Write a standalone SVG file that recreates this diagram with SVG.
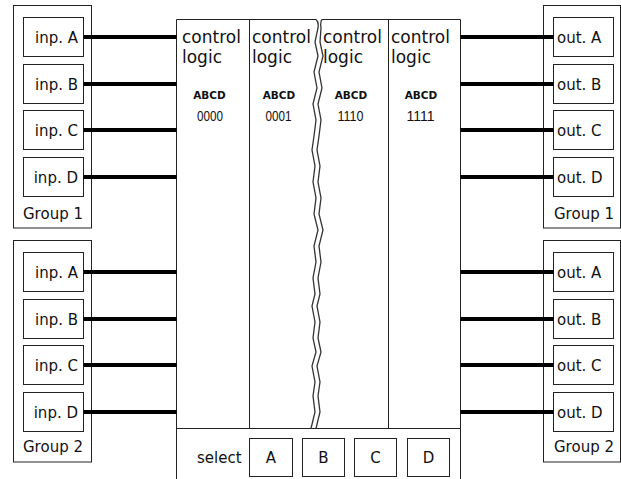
<svg xmlns="http://www.w3.org/2000/svg" width="621" height="479" viewBox="0 0 621 479">
<style>
.box{fill:#fff;stroke:#222;stroke-width:1}
.t{font-family:"DejaVu Sans",Verdana,sans-serif;font-size:15px;fill:#111}
.big{font-family:"DejaVu Sans",Verdana,sans-serif;font-size:17px;fill:#111}
.b{font-family:"DejaVu Sans",Verdana,sans-serif;font-size:10.5px;font-weight:bold;fill:#111;text-anchor:middle}
.d{font-family:"Liberation Sans",Arial,sans-serif;font-size:15px;fill:#111;text-anchor:middle}
.e{text-anchor:end}
.m{text-anchor:middle}
.wire{stroke:#000;stroke-width:4;fill:none}
.ln{stroke:#222;stroke-width:1;fill:none}
.wig{stroke:#333;stroke-width:1.3;fill:none}
</style>
<rect width="621" height="479" fill="#fff"/>

<g id="in-group1">
<rect class="box" x="13.5" y="5.5" width="78" height="222.5"/>
<rect class="box" x="23.5" y="17.5" width="60" height="39"/>
<rect class="box" x="23.5" y="64.5" width="60" height="39"/>
<rect class="box" x="23.5" y="110.5" width="60" height="39"/>
<rect class="box" x="23.5" y="157.5" width="60" height="39"/>
<text class="t e" x="78" y="42.5">inp. A</text>
<text class="t e" x="78" y="89.5">inp. B</text>
<text class="t e" x="78" y="135.5">inp. C</text>
<text class="t e" x="78" y="182.5">inp. D</text>
<text class="t" x="23" y="219">Group 1</text>
</g>

<g id="in-group2">
<rect class="box" x="13.5" y="240.5" width="78" height="221.5"/>
<rect class="box" x="23.5" y="252.5" width="60" height="39"/>
<rect class="box" x="23.5" y="299.5" width="60" height="39"/>
<rect class="box" x="23.5" y="345.5" width="60" height="39"/>
<rect class="box" x="23.5" y="392.5" width="60" height="39"/>
<text class="t e" x="78" y="277.5">inp. A</text>
<text class="t e" x="78" y="324.5">inp. B</text>
<text class="t e" x="78" y="370.5">inp. C</text>
<text class="t e" x="78" y="417.5">inp. D</text>
<text class="t" x="23" y="452">Group 2</text>
</g>

<g id="out-group1">
<rect class="box" x="543.5" y="5.5" width="77" height="222.5"/>
<rect class="box" x="553.5" y="17.5" width="60" height="39"/>
<rect class="box" x="553.5" y="64.5" width="60" height="39"/>
<rect class="box" x="553.5" y="110.5" width="60" height="39"/>
<rect class="box" x="553.5" y="157.5" width="60" height="39"/>
<text class="t" x="557" y="42.5">out. A</text>
<text class="t" x="557" y="89.5">out. B</text>
<text class="t" x="557" y="135.5">out. C</text>
<text class="t" x="557" y="182.5">out. D</text>
<text class="t" x="554" y="219">Group 1</text>
</g>

<g id="out-group2">
<rect class="box" x="543.5" y="240.5" width="77" height="221.5"/>
<rect class="box" x="553.5" y="252.5" width="60" height="39"/>
<rect class="box" x="553.5" y="299.5" width="60" height="39"/>
<rect class="box" x="553.5" y="345.5" width="60" height="39"/>
<rect class="box" x="553.5" y="392.5" width="60" height="39"/>
<text class="t" x="557" y="277.5">out. A</text>
<text class="t" x="557" y="324.5">out. B</text>
<text class="t" x="557" y="370.5">out. C</text>
<text class="t" x="557" y="417.5">out. D</text>
<text class="t" x="554" y="452">Group 2</text>
</g>

<g id="control-block">
<path class="ln" d="M176.5,479 V19.5 H316 M322,19.5 H460.5 V479"/>
<path class="ln" d="M176.5,428.5 H460.5 M249.5,19.5 V428.5 M388.5,19.5 V428.5"/>
<path class="wig" d="M316,19.5 Q319,22 318,28 L315,42 L318,56 L314,72 L317,88 L313,104 L316,120 L314,136 L312,150 L315,166 L313,182 L316,198 L314,214 L318,230 L314,246 L316,262 L313,278 L315,294 L312,306 L315,322 L313,338 L316,352 L312,366 L315,382 L313,396 L315,412 L311,428.5"/>
<path class="wig" d="M322,19.5 Q320,22 321,28 L320,42 L323,56 L319,72 L322,88 L318,104 L321,120 L319,136 L317,150 L320,166 L318,182 L321,198 L319,214 L323,230 L319,246 L321,262 L318,278 L320,294 L317,306 L320,322 L318,338 L321,352 L317,366 L320,382 L318,396 L320,412 L316,428.5"/>
</g>

<g id="logic-0000">
<text class="big" x="182" y="43">control</text>
<text class="big" x="182" y="63">logic</text>
<text class="b" x="209.5" y="99">ABCD</text>
<text class="d" x="210" y="121" textLength="26" lengthAdjust="spacingAndGlyphs">0000</text>
</g>
<g id="logic-0001">
<text class="big" x="252" y="43">control</text>
<text class="big" x="252" y="63">logic</text>
<text class="b" x="279" y="99">ABCD</text>
<text class="d" x="278.5" y="121" textLength="26" lengthAdjust="spacingAndGlyphs">0001</text>
</g>
<g id="logic-1110">
<text class="big" x="323" y="43">control</text>
<text class="big" x="323" y="63">logic</text>
<text class="b" x="351" y="99">ABCD</text>
<text class="d" x="350.5" y="121" textLength="26" lengthAdjust="spacingAndGlyphs">1110</text>
</g>
<g id="logic-1111">
<text class="big" x="391" y="43">control</text>
<text class="big" x="391" y="63">logic</text>
<text class="b" x="421" y="99">ABCD</text>
<text class="d" x="420.5" y="121" textLength="28" lengthAdjust="spacingAndGlyphs">1111</text>
</g>

<g id="select">
<text class="t" x="197" y="463">select</text>
<rect class="box" x="249.5" y="438.5" width="43" height="38"/>
<rect class="box" x="302.5" y="438.5" width="42" height="38"/>
<rect class="box" x="354.5" y="438.5" width="42" height="38"/>
<rect class="box" x="407.5" y="438.5" width="42" height="38"/>
<text class="t m" x="271" y="463">A</text>
<text class="t m" x="323.5" y="463">B</text>
<text class="t m" x="375.5" y="463">C</text>
<text class="t m" x="428.5" y="463">D</text>
</g>

<g id="connectors">
<path class="wire" d="M83.5,37 H176.5 M83.5,84 H176.5 M83.5,130 H176.5 M83.5,177 H176.5"/>
<path class="wire" d="M83.5,272 H176.5 M83.5,319 H176.5 M83.5,365 H176.5 M83.5,412 H176.5"/>
<path class="wire" d="M460.5,37 H553.5 M460.5,84 H553.5 M460.5,130 H553.5 M460.5,177 H553.5"/>
<path class="wire" d="M460.5,272 H553.5 M460.5,319 H553.5 M460.5,365 H553.5 M460.5,412 H553.5"/>
</g>
</svg>
